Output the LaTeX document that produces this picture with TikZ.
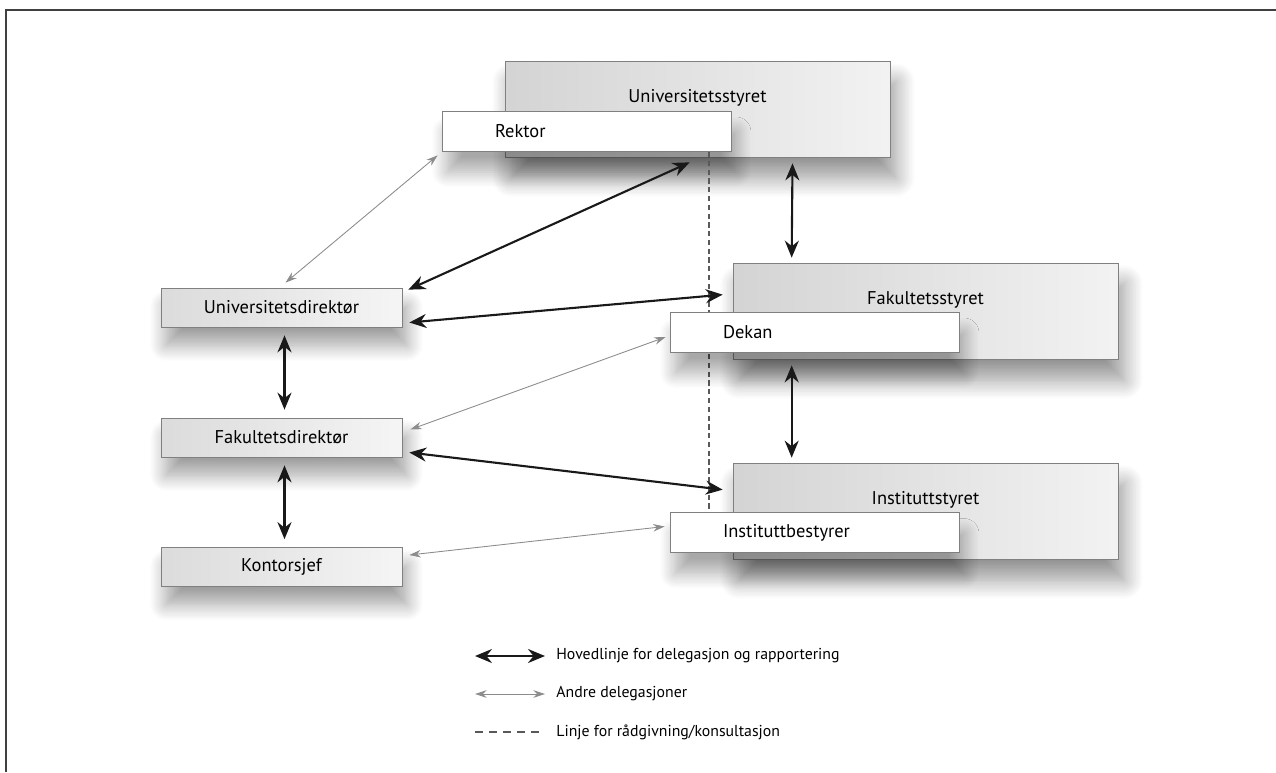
\documentclass[tikz,border=0pt]{standalone}
\usepackage{fontspec}
\setmainfont{PT Sans}
\usetikzlibrary{arrows.meta,positioning,calc,shadows.blur}

\begin{document}
\begin{tikzpicture}[
    x=0.02cm, y=0.02cm,
    font=\fontsize{10.5}{12}\selectfont,
    board/.style={
        draw=black!50,
        thin,
        left color=black!17,
        right color=black!5,
        minimum width=7.7cm,
        minimum height=1.92cm,
        inner ysep=0.2cm,
        text height=0.62cm,
        text depth=0.9cm,
        blur shadow={shadow xshift=0.12cm, shadow yshift=-0.42cm,
            shadow blur radius=0.38cm, shadow blur steps=14, shadow opacity=42}
    },
    head/.style={
        draw=black!50,
        thin,
        fill=white,
        minimum height=0.8cm,
        text width=3.66cm,
        inner xsep=1.06cm,
        align=left,
        blur shadow={shadow xshift=0.1cm, shadow yshift=-0.42cm,
            shadow blur radius=0.3cm, shadow blur steps=14, shadow opacity=34}
    },
    post/.style={
        draw=black!50,
        thin,
        left color=black!14,
        right color=black!4,
        minimum width=4.82cm,
        minimum height=0.78cm,
        blur shadow={shadow xshift=0.1cm, shadow yshift=-0.36cm,
            shadow blur radius=0.32cm, shadow blur steps=14, shadow opacity=38}
    },
    main/.style={{Stealth[length=3.4mm,width=2.8mm]}-{Stealth[length=3.4mm,width=2.8mm]},
        line width=1.2pt, black!90},
    other/.style={{Stealth[length=2.3mm,width=1.5mm]}-{Stealth[length=2.3mm,width=1.5mm]},
        line width=0.5pt, black!45},
    consult/.style={black!65, line width=0.6pt, dash pattern=on 3pt off 2pt},
    keytext/.style={anchor=west, inner sep=0pt, font=\fontsize{9}{11}\selectfont}
]
\useasboundingbox (0,0) rectangle (1276,-772);

% frame
\draw[line width=1.2pt, black!75] (1276,-10) -- (6,-10) -- (6,-772);

% university level
\node[board] (unistyre) at (697.5,-109) {Universitetsstyret};
\node[head] (rektor) at (586.5,-131) {Rektor};

% consultation line
\coordinate (consultTop) at (709,-152);
\coordinate (consultBot) at (709,-512);
\draw[consult] (consultTop) -- (consultBot);

% faculty and department level
\node[board] (fakstyre) at (925.5,-311) {Fakultetsstyret};
\node[head] (dekan) at (814.5,-332) {Dekan};
\node[board] (inststyre) at (925.5,-511) {Instituttstyret};
\node[head] (instbest) at (814.5,-532.5) {Instituttbestyrer};

% administration
\node[post] (unidir) at (281.5,-307.5) {Universitetsdirektør};
\node[post] (fakdir) at (281.5,-437.5) {Fakultetsdirektør};
\node[post] (kontor) at (281.5,-567) {Kontorsjef};

% main lines
\draw[main] ([shift={(6,-2)}]unidir.north east) -- ([shift={(185,-5)}]unistyre.south west);
\draw[main] ([shift={(7,-15)}]unidir.east) -- ([shift={(-10,-32)}]fakstyre.north west);
\draw[main] ([shift={(7,-15)}]fakdir.east) -- ([shift={(-10,-27)}]inststyre.north west);
\draw[main] ([shift={(95,-6)}]unistyre.south) -- ([shift={(59,5)}]fakstyre.north west);
\draw[main] ([shift={(59,-6)}]fakstyre.south west) -- ([shift={(59,5)}]inststyre.north west);
\draw[main] ([shift={(3,-8)}]unidir.south) -- ([shift={(3,8)}]fakdir.north);
\draw[main] ([shift={(3,-8)}]fakdir.south) -- ([shift={(3,8)}]kontor.north);

% other delegations
\draw[other] ([shift={(-4,-4)}]rektor.south west) -- ([shift={(4,5)}]unidir.north);
\draw[other] ([shift={(-4,-5)}]dekan.west) -- ([shift={(8,8)}]fakdir.east);
\draw[other] ([shift={(-5,6)}]instbest.west) -- ([shift={(7,12)}]kontor.east);

% legend
\coordinate (keyMainA) at (475,-656);
\coordinate (keyMainB) at (545,-656);
\coordinate (keyOtherA) at (475,-694);
\coordinate (keyOtherB) at (545,-694);
\coordinate (keyDashA) at (475,-732);
\coordinate (keyDashB) at (545,-732);
\draw[main] (keyMainA) -- (keyMainB);
\draw[other] (keyOtherA) -- (keyOtherB);
\draw[black!65, line width=0.6pt, dash pattern=on 4.5pt off 3.5pt] (keyDashA) -- (keyDashB);
\node[keytext] (keyMain) at (556,-656) {Hovedlinje for delegasjon og rapportering};
\node[keytext] (keyOther) at (556,-694) {Andre delegasjoner};
\node[keytext] (keyDash) at (556,-732) {Linje for rådgivning/konsultasjon};

\end{tikzpicture}
\end{document}
